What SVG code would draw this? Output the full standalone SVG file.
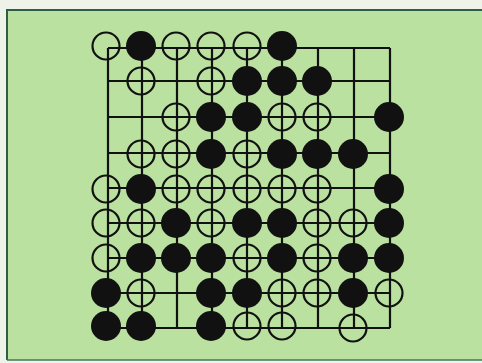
<svg xmlns="http://www.w3.org/2000/svg" width="482" height="363" viewBox="0 0 482 363">
  <style>
    .grid line { stroke: #111; stroke-width: 2.2; }
    .w { fill: none; stroke: #111; stroke-width: 2.2; }
    .b { fill: #111; stroke: none; }
  </style>
  <rect x="0" y="0" width="482" height="363" fill="#eef2e8"/>
  <rect x="7" y="10" width="475" height="350" fill="#bbe1a0"/>
  <path d="M7,360 L7,10 L482,10" fill="none" stroke="#2d5e45" stroke-width="2"/>
  <line x1="7" y1="360" x2="482" y2="360" stroke="#3f7a5a" stroke-width="1.5"/>
  <g id="connectors" class="grid">
    <line x1="108" y1="48" x2="390" y2="48"/>
    <line x1="108" y1="81" x2="390" y2="81"/>
    <line x1="108" y1="117" x2="390" y2="117"/>
    <line x1="108" y1="153" x2="390" y2="153"/>
    <line x1="108" y1="188" x2="390" y2="188"/>
    <line x1="108" y1="223" x2="390" y2="223"/>
    <line x1="108" y1="258" x2="390" y2="258"/>
    <line x1="108" y1="293" x2="390" y2="293"/>
    <line x1="108" y1="328" x2="390" y2="328"/>
    <line x1="108" y1="48" x2="108" y2="328"/>
    <line x1="142" y1="48" x2="142" y2="328"/>
    <line x1="177" y1="48" x2="177" y2="328"/>
    <line x1="212" y1="48" x2="212" y2="328"/>
    <line x1="247" y1="48" x2="247" y2="328"/>
    <line x1="282" y1="48" x2="282" y2="328"/>
    <line x1="318" y1="48" x2="318" y2="328"/>
    <line x1="354" y1="48" x2="354" y2="328"/>
    <line x1="390" y1="48" x2="390" y2="328"/>
  </g>
  <g id="stones">
    <circle id="r0c0" class="w" cx="106" cy="46" r="13.5"/>
    <circle id="r0c1" class="b" cx="141" cy="46" r="15"/>
    <circle id="r0c2" class="w" cx="176" cy="46" r="13.5"/>
    <circle id="r0c3" class="w" cx="211" cy="46" r="13.5"/>
    <circle id="r0c4" class="w" cx="247" cy="46" r="13.5"/>
    <circle id="r0c5" class="b" cx="282" cy="46" r="15"/>
    <circle id="r1c1" class="w" cx="141" cy="81" r="13.5"/>
    <circle id="r1c3" class="w" cx="211" cy="81" r="13.5"/>
    <circle id="r1c4" class="b" cx="247" cy="81" r="15"/>
    <circle id="r1c5" class="b" cx="282" cy="81" r="15"/>
    <circle id="r1c6" class="b" cx="317" cy="81" r="15"/>
    <circle id="r2c2" class="w" cx="176" cy="117" r="13.5"/>
    <circle id="r2c3" class="b" cx="211" cy="117" r="15"/>
    <circle id="r2c4" class="b" cx="247" cy="117" r="15"/>
    <circle id="r2c5" class="w" cx="282" cy="117" r="13.5"/>
    <circle id="r2c6" class="w" cx="317" cy="117" r="13.5"/>
    <circle id="r2c8" class="b" cx="389" cy="117" r="15"/>
    <circle id="r3c1" class="w" cx="141" cy="154" r="13.5"/>
    <circle id="r3c2" class="w" cx="176" cy="154" r="13.5"/>
    <circle id="r3c3" class="b" cx="211" cy="154" r="15"/>
    <circle id="r3c4" class="w" cx="247" cy="154" r="13.5"/>
    <circle id="r3c5" class="b" cx="282" cy="154" r="15"/>
    <circle id="r3c6" class="b" cx="317" cy="154" r="15"/>
    <circle id="r3c7" class="b" cx="353" cy="154" r="15"/>
    <circle id="r4c0" class="w" cx="106" cy="189" r="13.5"/>
    <circle id="r4c1" class="b" cx="141" cy="189" r="15"/>
    <circle id="r4c2" class="w" cx="176" cy="189" r="13.5"/>
    <circle id="r4c3" class="w" cx="211" cy="189" r="13.5"/>
    <circle id="r4c4" class="w" cx="247" cy="189" r="13.5"/>
    <circle id="r4c5" class="w" cx="282" cy="189" r="13.5"/>
    <circle id="r4c6" class="w" cx="317" cy="189" r="13.5"/>
    <circle id="r4c8" class="b" cx="389" cy="189" r="15"/>
    <circle id="r5c0" class="w" cx="106" cy="223" r="13.5"/>
    <circle id="r5c1" class="w" cx="141" cy="223" r="13.5"/>
    <circle id="r5c2" class="b" cx="176" cy="223" r="15"/>
    <circle id="r5c3" class="w" cx="211" cy="223" r="13.5"/>
    <circle id="r5c4" class="b" cx="247" cy="223" r="15"/>
    <circle id="r5c5" class="b" cx="282" cy="223" r="15"/>
    <circle id="r5c6" class="w" cx="317" cy="223" r="13.5"/>
    <circle id="r5c7" class="w" cx="353" cy="223" r="13.5"/>
    <circle id="r5c8" class="b" cx="389" cy="223" r="15"/>
    <circle id="r6c0" class="w" cx="106" cy="258" r="13.5"/>
    <circle id="r6c1" class="b" cx="141" cy="258" r="15"/>
    <circle id="r6c2" class="b" cx="176" cy="258" r="15"/>
    <circle id="r6c3" class="b" cx="211" cy="258" r="15"/>
    <circle id="r6c4" class="w" cx="247" cy="258" r="13.5"/>
    <circle id="r6c5" class="b" cx="282" cy="258" r="15"/>
    <circle id="r6c6" class="w" cx="317" cy="258" r="13.5"/>
    <circle id="r6c7" class="b" cx="353" cy="258" r="15"/>
    <circle id="r6c8" class="b" cx="389" cy="258" r="15"/>
    <circle id="r7c0" class="b" cx="106" cy="293" r="15"/>
    <circle id="r7c1" class="w" cx="141" cy="293" r="13.5"/>
    <circle id="r7c3" class="b" cx="211" cy="293" r="15"/>
    <circle id="r7c4" class="b" cx="247" cy="293" r="15"/>
    <circle id="r7c5" class="w" cx="282" cy="293" r="13.5"/>
    <circle id="r7c6" class="w" cx="317" cy="293" r="13.5"/>
    <circle id="r7c7" class="b" cx="353" cy="293" r="15"/>
    <circle id="r7c8" class="w" cx="389" cy="293" r="13.5"/>
    <circle id="r8c0" class="b" cx="106" cy="326" r="15"/>
    <circle id="r8c1" class="b" cx="141" cy="326" r="15"/>
    <circle id="r8c3" class="b" cx="211" cy="326" r="15"/>
    <circle id="r8c4" class="w" cx="247" cy="326" r="13.5"/>
    <circle id="r8c5" class="w" cx="282" cy="326" r="13.5"/>
    <circle id="r8c7" class="w" cx="353" cy="328" r="13.5"/>
  </g>
</svg>
